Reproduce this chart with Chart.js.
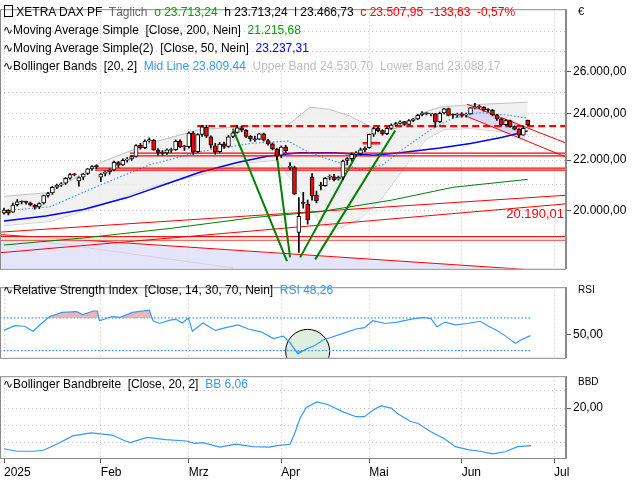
<!DOCTYPE html>
<html><head><meta charset="utf-8">
<script src="https://cdn.jsdelivr.net/npm/chart.js@4.4.1/dist/chart.umd.min.js"></script>
<style>
body{margin:0;width:640px;height:480px;background:#fff;overflow:hidden;font-family:"Liberation Sans",Arial,sans-serif;}
.p{position:absolute;left:0;width:640px;}
.t{position:absolute;font-size:12px;white-space:pre;color:#000;z-index:5;line-height:14px;}
</style></head><body>
<div class="p" style="top:0;height:278px"><canvas id="c1"></canvas></div>
<div class="p" style="top:278px;height:89px"><canvas id="c2"></canvas></div>
<div class="p" style="top:367px;height:113px"><canvas id="c3"></canvas></div>
<div class="t" style="left:4px;top:5px"><span style="display:inline-block;width:7px;height:10px;border:1px solid #000;vertical-align:-1px"></span> XETRA DAX PF  <span style="color:#666">Täglich</span>  <span style="color:#00a000">o 23.713,24</span>  h 23.713,24  l 23.466,73  <span style="color:#f00">c 23.507,95  -133,63  -0,57%</span></div>
<div class="t" style="left:3px;top:23px">∿Moving Average Simple  [Close, 200, Nein]  <span style="color:#00a000">21.215,68</span></div>
<div class="t" style="left:3px;top:41px">∿Moving Average Simple(2)  [Close, 50, Nein]  <span style="color:#0000ff">23.237,31</span></div>
<div class="t" style="left:3px;top:59px">∿Bollinger Bands  [20, 2]  <span style="color:#3399ff">Mid Line 23.809,44</span>  <span style="color:#c0c0c0">Upper Band 24.530,70  Lower Band 23.088,17</span></div>
<div class="t" style="left:578px;top:4px;font-size:11px">€</div>
<div class="t" style="left:3px;top:283px">∿Relative Strength Index  [Close, 14, 30, 70, Nein]  <span style="color:#3399ff">RSI 48,26</span></div>
<div class="t" style="left:578px;top:283px;font-size:10px">RSI</div>
<div class="t" style="left:3px;top:377px">∿Bollinger Bandbreite  [Close, 20, 2]  <span style="color:#3399ff">BB 6,06</span></div>
<div class="t" style="left:578px;top:375px;font-size:10px">BBD</div>
<script>
// ---------- data ----------
const monthTickIdx = [0,22,42,63,83,104,125];
const monthLabels = ['2025','Feb','Mrz','Apr','Mai','Jun','Jul'];
const opens = [19920,20020,19950,20230,20340,20320,20300,20200,20140,20300,20580,20680,20910,20990,21060,21260,21420,21150,21300,21450,21640,21740,
21300,21450,21520,21600,21900,21800,22000,22050,22150,22620,22520,22820,22830,22420,22310,22300,22400,22430,22790,22560,
22560,23150,22350,23090,23400,22980,22600,22350,22680,22570,23000,23170,23380,23270,23000,22890,22880,23110,22820,22680,22450,
22200,22540,21700,21690,19200,20300,20250,21300,20600,20960,20970,21300,21320,21230,21300,21980,22060,22250,22280,22430,
22520,23100,23360,23250,23120,23350,23500,23570,23650,23530,23700,23770,23960,24030,23990,24000,23650,24040,24240,23940,23940,
24000,23940,24000,24280,24320,24300,24170,24160,23950,23770,23520,23700,23430,23320,23060,23713];
const closes = [20024,19906,20216,20340,20330,20317,20215,20132,20271,20575,20655,20903,20990,21042,21254,21411,21394,21282,21430,21637,21727,21732,
21428,21505,21585,21902,21787,21990,22037,22148,22612,22513,22798,22844,22433,22314,22287,22426,22410,22794,22551,22551,
23147,22327,23081,23419,23009,22620,22329,22676,22567,22987,23154,23380,23288,22999,22892,22852,23109,22839,22679,22461,22163,
22539,22390,21717,20642,19790,20280,19670,20563,20375,20955,21254,21311,21206,21294,21961,22065,22242,22272,22426,22497,
23087,23345,23249,23116,23352,23499,23567,23639,23527,23695,23767,23935,24036,23999,23999,23630,24027,24226,23933,23934,23997,
23930,23993,24276,24324,24304,24174,24162,23949,23771,23516,23699,23435,23317,23057,23350,23508];
const highs = [20100,20040,20290,20420,20380,20370,20330,20240,20300,20600,20700,20940,21030,21090,21290,21460,21460,21320,21460,21660,21770,21800,
21470,21560,21640,21960,21950,22050,22100,22200,22650,22700,22850,22940,22880,22480,22400,22470,22500,22850,22850,22620,
23200,23220,23120,23470,23480,23030,22700,22740,22760,23050,23200,23480,23440,23300,23050,23020,23140,23150,22880,22720,22500,
22600,22620,21900,21750,20500,20700,20400,21450,20750,21100,21300,21400,21420,21350,22000,22100,22300,22350,22500,22550,
23100,23400,23420,23300,23400,23550,23620,23680,23660,23740,23800,23980,24100,24050,24020,24020,24080,24250,24260,24000,24030,
24050,24030,24300,24480,24400,24330,24240,24200,23980,23800,23750,23720,23460,23340,23450,23713];
const lows = [19870,19840,19940,20180,20260,20250,20180,20060,20080,20250,20520,20620,20850,20940,21010,21210,21350,20950,21200,21400,21580,21640,
21120,21350,21420,21560,21700,21780,21910,21980,22120,22460,22480,22750,22400,22200,22200,22220,22320,22400,22520,22400,
22500,22230,22300,23000,22950,22500,22250,22300,22490,22540,22950,23140,23210,22960,22800,22780,22860,22800,22620,22420,22020,
22100,22300,21600,20600,18490,20100,19500,20400,20300,20800,20950,21200,21150,21180,21200,21800,21960,22150,22200,22350,
22500,23000,23200,23050,23080,23300,23450,23540,23480,23500,23640,23740,23900,23950,23900,23400,23600,24000,23900,23800,23850,
23850,23850,23980,24220,24250,24120,24100,23900,23700,23450,23480,23400,23280,22950,23060,23466];

const ma200Idx = [0,18,38,57,72,88,102,119];
const ma200Val = [18750,19000,19350,19750,19970,20400,20900,21215];
const ma50Idx = [0,9.5,18,28,38,44.5,53,59.8,67,75,84,90,99,106,113,119];
const ma50Val = [19620,19800,20050,20500,21100,21500,21900,22160,22300,22300,22200,22300,22500,22700,22950,23237];
const bbUpIdx = [0,10.5,22,33,44.5,56,64.5,69.5,74,78.6,85.5,90,94.5,99,105,119];
const bbUpVal = [20550,20700,21900,22700,23300,23450,23500,24300,24200,23900,23200,23400,24000,24300,24400,24530];
const bbLoIdx = [0,10.5,22,33,44.5,56,62,67,72,76,81,86,91,96,100,106,119];
const bbLoVal = [19450,19600,20200,20900,21400,21900,22000,20800,19500,19350,19700,20500,21700,22900,23300,23350,23088];
const bbMidIdx = [0,10.5,22,33,44.5,56,64.5,69.5,76,81,86,91,97,102,108,114,119];
const bbMidVal = [20000,20150,21000,21800,22350,22700,22800,22300,21900,21600,21800,22500,23300,23800,24050,23950,23809];

const rsiIdx = [0,2.4,4.7,6.6,8.5,10.4,13.2,16.5,17.9,20.3,21.2,21.7,24.5,26.4,29.2,33,33.9,35.3,37.7,39.1,40.5,41.9,42.8,45.2,48,50.4,53.2,55.5,58.4,61.2,63.5,65,66.8,68.7,70.6,72.5,74.4,77.2,80,81.9,83.8,86.6,89.4,92.3,95.1,97,98.4,100.2,102.6,105.4,108.2,110.1,112,113.9,116.2,117.7,119.6];
const rsiVal = [54.7,60.5,59.8,53.7,63.2,71.7,76.8,77.8,74.1,78.5,78.5,66.6,71.7,70.7,76.8,79.5,66.6,63.2,67.3,68.3,63.9,70,53.7,63.9,54.7,58.1,61.5,56.4,53,44.6,47.6,39.5,25.9,32,36.1,42.9,46.3,51.4,56.4,58.1,66.6,63.2,64.9,68.3,70.7,69.3,59.2,64.9,61.5,63.2,65.9,59.8,54.7,48,38.8,43.6,48.26];
const bbwIdx = [0,2.9,6.6,9,12.3,15.6,19.8,24.5,27.3,28.7,32.5,36.7,41.4,43.3,45.2,49,52.7,56.5,60.3,62.1,65,65.9,67.3,68.7,71.1,73.4,77.2,80,81.9,84.3,85.7,88,89.4,92.3,94.1,97,99.8,102.6,105.4,108.2,111,113.9,116.7,119.8];
const bbwVal = [4.93,4.0,4.0,4.36,6.86,9.7,10.8,10.0,8.0,7.2,9.1,8.3,7.8,6.9,7.2,5.5,6.6,5.7,5.5,6.06,6.6,10.0,16.3,20.2,22.3,21.4,18.5,16.8,16.8,19.7,20.8,20.0,18.0,15.1,14.3,11.2,8.9,5.7,4.6,4.0,3.0,3.8,5.7,6.06];

// drawn lines: [idxStart, valStart, idxEnd, valEnd]
const hLinesRed = [[43.9,23450,127.7,23450]];
const hDoubleRed = [[28.6,22290,127.7,22290],[28.6,22170,127.7,22170],[20.7,21670,127.7,21670],[20.7,21590,127.7,21590],[81.5,22730,85.5,22730],[81.5,22680,85.5,22680]];
const floorLines = [[-0.9,19050,127.7,19050],[-0.9,18920,127.7,18920]];
const risingRed = [[-0.9,19210,127.7,20590],[-0.9,18480,127.7,20260]];
const fallingRed = [[-0.9,19120,127.7,17820],[-0.9,19080,52,17960]];
const greenLines = [[52,23340,64.3,18190],[62,22170,65,18320],[67.3,18320,79.8,22140],[70.7,18250,88.9,23260]];
const chanTop = [105.2,24440,127.5,22730];
const chanBot = [105.2,23880,127.5,22140];
const chanFillTop = [[105.2,24440],[118.4,23420]];
const chanFillBot = [[105.2,23880],[118.4,22830]];
const priceTicks = [19000,20000,21000,22000,23000,24000,25000,26000,27000,28000];
const priceLabeled = [20000,22000,24000,26000];

// ---------- helpers ----------
const pts=(ix,v)=>ix.map((x,i)=>({x,y:v[i]}));
const seg=s=>[{x:s[0],y:s[1]},{x:s[2],y:s[3]}];
const fmt=(v,d)=>v.toLocaleString('de-DE',{minimumFractionDigits:d,maximumFractionDigits:d});
const XMIN=-0.91, XMAX=127.7, AXW=74;
Chart.defaults.font.family='"Liberation Sans", Arial, sans-serif';
Chart.defaults.font.size=12;
Chart.defaults.color='#000';
const frame={id:'frame',afterDraw(c){const a=c.chartArea,x=c.ctx;x.save();x.strokeStyle='#8a8a8a';x.lineWidth=1;x.strokeRect(a.left+0.5,a.top+0.5,a.right-a.left-1,a.bottom-a.top);x.restore();}};
function xScale(show){return {type:'linear',min:XMIN,max:XMAX,offset:false,
  afterBuildTicks:s=>{s.ticks=monthTickIdx.map(v=>({value:v}));},
  afterFit:s=>{s.height=show?22:0;},
  grid:{color:'#c4c4c4',offset:false,tickLength:show?5:0,drawTicks:show,tickColor:'#555'},
  border:{display:false,dash:[1,3]},
  ticks:{display:show,align:'start',padding:2,maxRotation:0,autoSkip:false,font:{size:12},callback:(v,i)=>monthLabels[i]}};}
const baseOpts=(scales,padTop)=>({animation:false,responsive:true,maintainAspectRatio:false,
  layout:{padding:{top:padTop,left:0,right:0,bottom:0}},
  plugins:{legend:{display:false},tooltip:{enabled:false}},
  elements:{point:{radius:0},line:{tension:0}},scales});

// ---------- main ----------
const wickData=highs.map((h,i)=>({x:i,y:[lows[i],h]}));
const bodyData=opens.map((o,i)=>({x:i,y:[Math.min(o,closes[i]),Math.max(o,closes[i])]}));
const bodyBg=opens.map((o,i)=>closes[i]>=o?'#ffffff':'#ff0000');
const ds=[];
const L=(data,color,w,order,extra)=>Object.assign({type:'line',data,borderColor:color,borderWidth:w,pointRadius:0,fill:false,order},extra||{});
ds.push(L(pts(bbUpIdx,bbUpVal),'#c0c0c0',1,30,{fill:'+1',backgroundColor:'rgba(238,238,238,0.85)'}));
ds.push(L(pts(bbLoIdx,bbLoVal),'#c0c0c0',1,31));
fallingRed.forEach((s,i)=>ds.push(L(seg(s),'#ff0000',1,28,i==0?{fill:'start',backgroundColor:'rgba(225,225,250,0.9)'}:{})));
ds.push(L(seg(floorLines[0]),'#ff0000',1,27,{fill:'+1',backgroundColor:'rgba(215,235,215,0.8)'}));
ds.push(L(seg(floorLines[1]),'#ff0000',1,27));
ds.push(L(chanFillTop.map(p=>({x:p[0],y:p[1]})),'rgba(0,0,0,0)',0,26,{fill:'+1',backgroundColor:'rgba(210,210,250,0.75)'}));
ds.push(L(chanFillBot.map(p=>({x:p[0],y:p[1]})),'rgba(0,0,0,0)',0,26));
risingRed.forEach(s=>ds.push(L(seg(s),'#ff0000',1,20)));
ds.push(L(pts(ma200Idx,ma200Val),'#008000',1,19));
ds.push(L(pts(ma50Idx,ma50Val),'#0000ff',1.5,18));
ds.push(L(pts(bbMidIdx,bbMidVal),'#3399ff',1.2,17,{borderDash:[1.5,2]}));
hDoubleRed.forEach(s=>ds.push(L(seg(s),'#ff0000',1.3,16)));
ds.push(L(seg(chanTop),'#ff0000',1,15));ds.push(L(seg(chanBot),'#ff0000',1,15));
ds.push(L(seg(hLinesRed[0]),'#ff0000',2.2,14,{borderDash:[7,4]}));
greenLines.forEach(s=>ds.push(L(seg(s),'#008000',2,13)));
ds.push({type:'bar',data:wickData,backgroundColor:'#000',barThickness:1,grouped:false,order:6});
ds.push({type:'bar',data:bodyData,backgroundColor:bodyBg,borderColor:'#000',borderWidth:1,borderSkipped:false,barThickness:4,grouped:false,order:5,minBarLength:1});
const labelPlugin={id:'lbl',afterDatasetsDraw(c){const x=c.ctx;x.save();x.font='13px "Liberation Sans", Arial';x.fillStyle='#ff0000';x.textAlign='right';x.textBaseline='middle';
  x.fillText(fmt(20190.01,2),c.scales.x.getPixelForValue(XMAX)-2,c.scales.y.getPixelForValue(19860));x.restore();}};
new Chart(document.getElementById('c1'),{data:{datasets:ds},plugins:[frame,labelPlugin],options:baseOpts({
  x:xScale(false),
  y:{type:'logarithmic',position:'right',min:17930,max:29220,
    afterFit:s=>{s.width=AXW;},
    afterBuildTicks:s=>{s.ticks=priceTicks.map(v=>({value:v}));},
    grid:{color:'#c4c4c4',tickLength:5,tickColor:c=>priceLabeled.includes(c.tick.value)?'#555':'rgba(0,0,0,0)'},
    border:{display:true,color:'#8a8a8a',dash:[1,3]},
    ticks:{padding:2,autoSkip:false,callback:v=>priceLabeled.includes(v)?fmt(v,2):''}}},1)});

// ---------- RSI ----------
const rsiPts=pts(rsiIdx,rsiVal);
const ellipse={id:'ell',beforeDatasetsDraw(c){const x=c.ctx,a=c.chartArea;x.save();x.beginPath();x.rect(a.left,a.top,a.right-a.left,a.bottom-a.top);x.clip();
  x.beginPath();x.ellipse(c.scales.x.getPixelForValue(69),c.scales.y.getPixelForValue(29),22,22,0,0,Math.PI*2);x.fillStyle='rgba(215,235,215,0.8)';x.fill();x.strokeStyle='#000';x.lineWidth=1;x.stroke();x.restore();}};
new Chart(document.getElementById('c2'),{data:{datasets:[
  L(rsiPts,'#3399ff',1.2,2,{fill:{target:{value:70},above:'rgba(240,160,160,0.8)',below:'rgba(0,0,0,0)'}}),
  L(rsiPts,'rgba(0,0,0,0)',0,3,{fill:{target:{value:30},above:'rgba(0,0,0,0)',below:'rgba(150,150,150,0.8)'}}),
  L(seg([XMIN,70,119.7,70]),'#3399ff',1.2,4,{borderDash:[1.5,2]}),
  L(seg([XMIN,30,119.7,30]),'#3399ff',1.2,4,{borderDash:[1.5,2]})]},
  plugins:[frame,ellipse],options:baseOpts({x:xScale(false),
  y:{type:'linear',position:'right',min:21.1,max:107.7,afterFit:s=>{s.width=AXW;},
    afterBuildTicks:s=>{s.ticks=[{value:50}];},
    grid:{color:'rgba(0,0,0,0)',tickLength:5,tickColor:'#555'},border:{display:true,color:'#8a8a8a'},
    ticks:{padding:2,callback:v=>fmt(v,2)}}},3)});

// ---------- BBW ----------
new Chart(document.getElementById('c3'),{data:{datasets:[L(pts(bbwIdx,bbwVal),'#3399ff',1.2,1)]},
  plugins:[frame],options:baseOpts({x:xScale(true),
  y:{type:'linear',position:'right',min:1.5,max:31.8,afterFit:s=>{s.width=AXW;},
    afterBuildTicks:s=>{s.ticks=[7.2,13.6,20,26.4].map(v=>({value:v}));},
    grid:{color:'#c4c4c4',tickLength:5,tickColor:c=>c.tick.value===20?'#555':'rgba(0,0,0,0)'},border:{display:true,color:'#8a8a8a',dash:[1,3]},
    ticks:{padding:2,callback:v=>v===20?fmt(v,2):''}}},2)});
</script></body></html>
